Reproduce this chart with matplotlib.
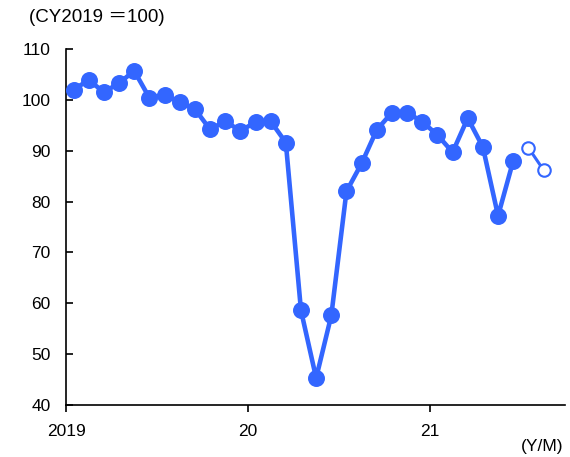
import matplotlib
matplotlib.use("Agg")
import matplotlib.pyplot as plt

plt.rcParams['font.family'] = ['Liberation Sans', 'Noto Sans CJK JP', 'DejaVu Sans']

# Monthly index, Jan 2019 - Jun 2021 (actual)
actual = [102.0, 103.9, 101.5, 103.3, 105.7, 100.4, 101.0, 99.6, 98.2, 94.2,
          95.8, 93.9, 95.6, 95.8, 91.6, 58.6, 45.3, 57.6, 82.0, 87.5,
          94.1, 97.5, 97.5, 95.7, 93.1, 89.7, 96.4, 90.7, 77.2, 88.0]
# Jul - Aug 2021 (projection)
projection = [90.6, 86.2]

year_ticks = [0, 12, 24]
year_labels = ["2019", "20", "21"]
y_ticks = [40, 50, 60, 70, 80, 90, 100, 110]

color = "#3366FF"

fig = plt.figure(figsize=(5.70, 4.57), dpi=100)
ax = fig.add_axes([0.1158, 0.1138, 0.875, 0.779])

x_act = [i + 0.5 for i in range(len(actual))]
x_proj = [len(actual) + i + 0.5 for i in range(len(projection))]

ax.plot(x_act, actual, color=color, lw=3.3, marker="o", ms=11.2,
        solid_joinstyle="round", zorder=3)
ax.plot(x_proj, projection, color=color, lw=2.2, marker="o", ms=9,
        markerfacecolor="white", markeredgecolor=color, markeredgewidth=1.5,
        zorder=4)

ax.set_xlim(0, 32.9)
ax.set_ylim(40, 110)
ax.set_xticks(year_ticks)
ax.set_xticklabels(year_labels)
ax.set_yticks(y_ticks)

for s in ["top", "right"]:
    ax.spines[s].set_visible(False)
for s in ["left", "bottom"]:
    ax.spines[s].set_linewidth(1.2)
    ax.spines[s].set_color("black")

ax.tick_params(axis="y", direction="in", length=5, width=1.2, labelsize=12.5, pad=11)
ax.tick_params(axis="x", direction="out", length=5, width=1.2, labelsize=12.5, pad=9)

fig.text(0.051, 0.962, "(CY2019 ＝100)", fontsize=13.5, ha="left", va="center")
fig.text(0.988, 0.022, "(Y/M)", fontsize=12.5, ha="right", va="center")

fig.savefig("out.png", dpi=100)
